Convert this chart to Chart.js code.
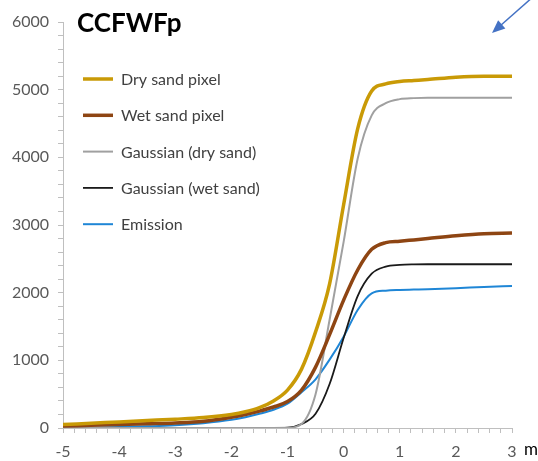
<!DOCTYPE html>
<html>
<head>
<meta charset="utf-8">
<script src="https://cdn.jsdelivr.net/npm/chart.js@4.4.1/dist/chart.umd.min.js"></script>
<style>
  html, body { margin: 0; padding: 0; background: #fff; }
  #wrap { width: 538px; height: 461px; position: relative; }
</style>
</head>
<body>
<div id="wrap"><canvas id="chart"></canvas></div>
<script>
// x positions (m)
const xs = [-5, -4.5, -4, -3.5, -3, -2.5, -2, -1.75, -1.5, -1.25, -1, -0.75, -0.5, -0.25, 0, 0.25, 0.5, 0.75, 1, 1.25, 1.5, 2, 2.5, 3];

// values
const drySand  = [50, 70, 90, 110, 130, 155, 200, 240, 300, 400, 560, 870, 1420, 2130, 3300, 4420, 4980, 5085, 5120, 5135, 5150, 5185, 5200, 5200];
const wetSand  = [30, 40, 50, 62, 75, 100, 160, 200, 250, 310, 390, 560, 900, 1380, 1890, 2335, 2640, 2740, 2760, 2780, 2800, 2840, 2870, 2880];
const gaussDry = [0, 0, 0, 0, 0, 0, 0, 0, 0, 0, 2, 60, 500, 1600, 2750, 3980, 4620, 4800, 4860, 4875, 4880, 4880, 4880, 4880];
const gaussWet = [0, 0, 0, 0, 0, 0, 0, 0, 0, 0, 5, 60, 210, 650, 1330, 1950, 2280, 2385, 2410, 2418, 2420, 2420, 2420, 2420];
const emission = [0, 5, 15, 25, 40, 70, 120, 160, 210, 270, 360, 530, 720, 1010, 1350, 1745, 1990, 2030, 2040, 2045, 2050, 2065, 2085, 2100];

const seriesNames = ["Dry sand pixel", "Wet sand pixel", "Gaussian (dry sand)", "Gaussian (wet sand)", "Emission"];
const xTickLabels = [-5, -4, -3, -2, -1, 0, 1, 2, 3];
const yTickLabels = [0, 1000, 2000, 3000, 4000, 5000, 6000];

const FONT = "Lato, 'Open Sans', sans-serif";

function pts(vals) {
  return xs.map((x, i) => ({ x: x, y: vals[i] }));
}

// title, legend inside plot, unit label and arrow
const decor = {
  id: "decor",
  afterDraw(chart) {
    const ctx = chart.ctx;
    ctx.save();

    // title
    ctx.fillStyle = "#000";
    ctx.font = "bold 26px " + FONT;
    ctx.textAlign = "left";
    ctx.textBaseline = "alphabetic";
    ctx.fillText("CCFWFp", 77, 32);

    // legend
    ctx.font = "16px " + FONT;
    ctx.textBaseline = "middle";
    chart.data.datasets.forEach((ds, i) => {
      const y = 79 + i * 36.3;
      ctx.strokeStyle = ds.borderColor;
      ctx.lineWidth = ds.borderWidth;
      ctx.beginPath();
      ctx.moveTo(83, y);
      ctx.lineTo(113, y);
      ctx.stroke();
      ctx.fillStyle = "#404040";
      ctx.fillText(ds.label, 121, y + 1);
    });

    // unit
    ctx.fillStyle = "#000";
    ctx.font = "17px " + FONT;
    ctx.textBaseline = "alphabetic";
    ctx.fillText("m", 524, 455);

    // arrow
    ctx.strokeStyle = "#4472C4";
    ctx.fillStyle = "#4472C4";
    ctx.lineWidth = 1.5;
    const tipX = 492, tipY = 33;
    const fromX = 534, fromY = -4;
    const ang = Math.atan2(tipY - fromY, tipX - fromX);
    ctx.beginPath();
    ctx.moveTo(fromX, fromY);
    ctx.lineTo(tipX - 8 * Math.cos(ang), tipY - 8 * Math.sin(ang));
    ctx.stroke();
    ctx.beginPath();
    ctx.moveTo(tipX, tipY);
    ctx.lineTo(tipX - 13 * Math.cos(ang) + 5.5 * Math.sin(ang), tipY - 13 * Math.sin(ang) - 5.5 * Math.cos(ang));
    ctx.lineTo(tipX - 13 * Math.cos(ang) - 5.5 * Math.sin(ang), tipY - 13 * Math.sin(ang) + 5.5 * Math.cos(ang));
    ctx.closePath();
    ctx.fill();

    ctx.restore();
  }
};

const ctx = document.getElementById("chart").getContext("2d");

new Chart(ctx, {
  type: "line",
  data: {
    datasets: [
      { label: seriesNames[0], data: pts(drySand),  borderColor: "#C99A06", borderWidth: 3.5 },
      { label: seriesNames[1], data: pts(wetSand),  borderColor: "#8E4513", borderWidth: 3.5 },
      { label: seriesNames[2], data: pts(gaussDry), borderColor: "#A0A0A0", borderWidth: 2 },
      { label: seriesNames[3], data: pts(gaussWet), borderColor: "#1A1A1A", borderWidth: 1.8 },
      { label: seriesNames[4], data: pts(emission), borderColor: "#1F86D6", borderWidth: 2 }
    ].map(d => Object.assign(d, {
      fill: false,
      pointRadius: 0,
      cubicInterpolationMode: "monotone"
    }))
  },
  options: {
    responsive: true,
    maintainAspectRatio: false,
    animation: false,
    layout: { padding: { left: 0, right: 26, top: 22, bottom: 0 } },
    plugins: {
      legend: { display: false },
      title: { display: false },
      tooltip: { enabled: false }
    },
    scales: {
      x: {
        type: "linear",
        min: -5,
        max: 3,
        afterBuildTicks: (scale) => {
          const t = [];
          for (let i = 0; i <= 40; i++) t.push({ value: -5 + i * 0.2 });
          scale.ticks = t;
        },
        afterFit: (scale) => { scale.height = 33; },
        border: { color: "#BFBFBF", width: 1 },
        grid: { drawOnChartArea: false, drawTicks: true, tickLength: 5, color: "#BFBFBF" },
        ticks: {
          autoSkip: false,
          maxRotation: 0,
          padding: 9,
          color: "#595959",
          font: { family: FONT, size: 16 },
          callback: (v) => {
            const r = Math.round(v);
            return Math.abs(v - r) < 1e-6 && xTickLabels.includes(r) ? String(r) : "";
          }
        }
      },
      y: {
        min: 0,
        max: 6000,
        afterBuildTicks: (scale) => {
          const t = [];
          for (let i = 0; i <= 30; i++) t.push({ value: i * 200 });
          scale.ticks = t;
        },
        afterFit: (scale) => { scale.width = 63; },
        border: { color: "#BFBFBF", width: 1 },
        grid: { drawOnChartArea: false, drawTicks: true, tickLength: 5, color: "#BFBFBF" },
        ticks: {
          autoSkip: false,
          padding: 9,
          color: "#595959",
          font: { family: FONT, size: 16 },
          callback: (v) => yTickLabels.includes(v) ? String(v) : ""
        }
      }
    }
  },
  plugins: [decor]
});
</script>
</body>
</html>
